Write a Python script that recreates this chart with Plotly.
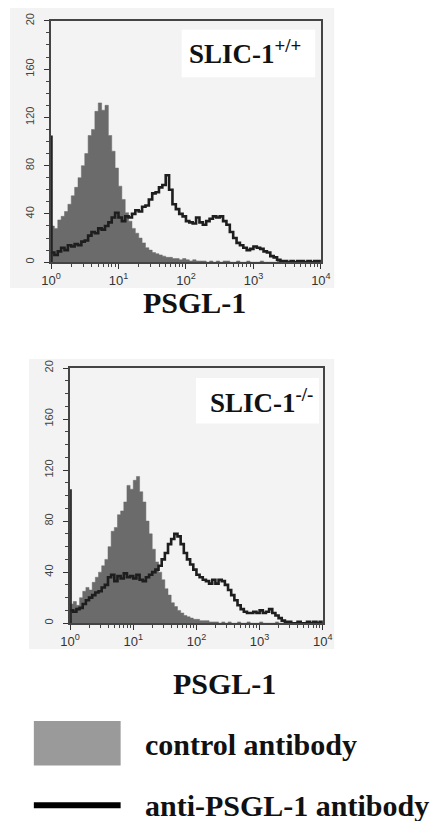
import plotly.graph_objects as go

# ---------------- data ----------------
log_channels = [round(i * 0.05, 2) for i in range(81)]   # log10 fluorescence bins 0..4
fluor = [10 ** v for v in log_channels]

top_control = [30,28,35,38,42,48,55,62,70,80, 90,105,110,125,132,126,130,105,92,78,
               63,52,41,34,28,24,20,16,12,10, 8,7,6,5,4,4,3,3,2,3,
               2,1,2,1,1,1,0,1,0,1, 0,1,1,0,0,1,0,0,1,0,
               0,0,1,0,0,0,0,1,0,0, 0,0,0,0,1,0,0,0,0,0, 0]
top_anti = [8,6,9,12,10,14,13,15,14,17, 18,22,25,24,28,27,30,33,37,41,
            37,34,38,37,40,43,42,46,47,52, 57,58,62,64,72,60,48,44,40,38,
            34,33,32,37,33,31,34,36,38,37, 38,34,31,25,20,16,14,12,10,11,
            13,12,11,9,8,5,4,2,1,1, 0,1,0,1,1,0,1,0,1,1, 0]
bot_control = [15,17,14,20,25,28,26,32,36,40, 45,50,60,72,75,85,88,95,108,105,
               112,115,103,95,80,70,58,48,40,34, 27,22,16,13,10,8,6,5,4,3,
               3,2,2,2,1,1,1,0,1,0, 1,0,0,1,0,0,1,0,0,0,
               1,0,0,0,0,1,0,0,0,0, 0,0,1,0,0,0,0,0,1,0, 0]
bot_anti = [10,9,11,12,15,18,20,22,24,25, 28,30,36,38,33,37,35,39,36,37,
            35,38,34,33,36,38,40,42,45,50, 55,62,66,70,68,62,55,50,46,42,
            38,36,34,33,31,34,31,34,33,30, 26,22,18,14,11,9,8,8,9,8,
            10,8,9,11,8,6,4,2,1,1, 0,0,1,0,0,1,0,1,0,1, 0]
first_channel_pileup = [105, 105]   # off-scale first channel (top, bottom)

y_tickvals = [0, 40, 80, 120, 160, 200]
y_ticktext = ["0", "40", "80", "120", "160", "20"]
x_tickvals = [1, 10, 100, 1000, 10000]
x_ticktext = ["10<sup>0</sup>", "10<sup>1</sup>", "10<sup>2</sup>", "10<sup>3</sup>", "10<sup>4</sup>"]
x_minor = [m * 10 ** d for d in range(4) for m in range(2, 10)]
panel_labels = ["SLIC-1<sup>+/+</sup>", "SLIC-1<sup>-/-</sup>"]
axis_title = "PSGL-1"
legend_labels = ["control antibody", "anti-PSGL-1 antibody"]

W, H = 432, 821
FILL = "#6b6b6b"
LINE = "#1e1e1e"
SERIF = "Liberation Serif, Times New Roman, serif"
SANS = "Liberation Sans, Arial, sans-serif"

fig = go.Figure()

def px(x):
    return x / W

def py(y):
    return 1 - y / H

panels = [
    dict(ctrl=top_control, anti=top_anti, pile=first_channel_pileup[0], xa="x", ya="y"),
    dict(ctrl=bot_control, anti=bot_anti, pile=first_channel_pileup[1], xa="x2", ya="y2"),
]
for p in panels:
    fig.add_trace(go.Scatter(x=fluor, y=p["ctrl"], mode="lines", line_shape="hv",
                             line=dict(color=FILL, width=0.5), fill="tozeroy",
                             fillcolor=FILL, xaxis=p["xa"], yaxis=p["ya"],
                             showlegend=False, hoverinfo="skip"))
    fig.add_trace(go.Scatter(x=fluor, y=p["anti"], mode="lines", line_shape="hv",
                             line=dict(color=LINE, width=2.6),
                             xaxis=p["xa"], yaxis=p["ya"], showlegend=False))
    fig.add_trace(go.Scatter(x=[fluor[0], fluor[0]], y=[0, p["pile"]], mode="lines",
                             line=dict(color="#222", width=3.5),
                             xaxis=p["xa"], yaxis=p["ya"], showlegend=False))

xcommon = dict(type="log", range=[0, 4], tickvals=x_tickvals, ticktext=x_ticktext,
               ticks="outside", ticklen=5, tickcolor="#333", showgrid=False,
               showline=True, linecolor="#444", linewidth=1.5, mirror=True,
               tickfont=dict(family=SANS, size=13, color="#333"), zeroline=False,
               minor=dict(tickvals=x_minor, ticks="outside", ticklen=3, tickcolor="#444"))
ycommon = dict(range=[0, 200], tickvals=y_tickvals, ticktext=y_ticktext, tickangle=-90,
               ticks="outside", ticklen=5, tickcolor="#333", showgrid=False,
               showline=True, linecolor="#444", linewidth=2.2, mirror=True,
               ticklabelstandoff=6, zeroline=False,
               tickfont=dict(family=SANS, size=11, color="#444"),
               minor=dict(dtick=10, ticks="outside", ticklen=3, tickcolor="#444"))

fig.update_layout(
    width=W, height=H, margin=dict(l=0, r=0, t=0, b=0),
    paper_bgcolor="white", plot_bgcolor="rgba(0,0,0,0)",
    xaxis=dict(domain=[px(43), px(326)], anchor="y", **xcommon),
    yaxis=dict(domain=[py(257), py(13)], anchor="x", **ycommon),
    xaxis2=dict(domain=[px(63), px(328)], anchor="y2", **xcommon),
    yaxis2=dict(domain=[py(622), py(364)], anchor="x2", **ycommon),
)

shapes = [
    dict(type="rect", xref="paper", yref="paper", x0=px(0), x1=px(340), y0=py(283), y1=py(0),
         fillcolor="#f3f3f3", line=dict(width=0), layer="below"),
    dict(type="rect", xref="paper", yref="paper", x0=px(20), x1=px(340), y0=py(648), y1=py(355),
         fillcolor="#f3f3f3", line=dict(width=0), layer="below"),
    dict(type="rect", xref="paper", yref="paper", x0=px(180), x1=px(320), y0=py(70), y1=py(22),
         fillcolor="white", line=dict(width=0), layer="below"),
    dict(type="rect", xref="paper", yref="paper", x0=px(195), x1=px(324), y0=py(420), y1=py(374),
         fillcolor="white", line=dict(width=0), layer="below"),
    dict(type="rect", xref="paper", yref="paper", x0=px(25), x1=px(116), y0=py(766), y1=py(721),
         fillcolor="#9a9a9a", line=dict(width=0)),
    dict(type="line", xref="paper", yref="paper", x0=px(25), x1=px(116), y0=py(806), y1=py(806),
         line=dict(color="black", width=6)),
]
fig.update_layout(shapes=shapes)

ann = [
    dict(text="<b>" + panel_labels[0] + "</b>", x=px(246), y=py(44)),
    dict(text="<b>" + panel_labels[1] + "</b>", x=px(264), y=py(397)),
]
for a in ann:
    fig.add_annotation(xref="paper", yref="paper", showarrow=False, xanchor="center",
                       yanchor="middle", font=dict(family=SERIF, size=27, color="#111"), **a)
for (xc, yc) in [(193, 298), (225, 683)]:
    fig.add_annotation(text="<b>" + axis_title + "</b>", xref="paper", yref="paper",
                       x=px(xc), y=py(yc), showarrow=False, xanchor="center", yanchor="middle",
                       font=dict(family=SERIF, size=30, color="#111"))
for txt, yc in zip(legend_labels, [745, 806]):
    fig.add_annotation(text="<b>" + txt + "</b>", xref="paper", yref="paper",
                       x=px(139), y=py(yc), showarrow=False, xanchor="left", yanchor="middle",
                       font=dict(family=SERIF, size=30, color="#111"))

fig.write_html("out.html", config={"displayModeBar": False},
               post_script="document.body.style.margin='0';document.body.style.overflow='hidden';")
